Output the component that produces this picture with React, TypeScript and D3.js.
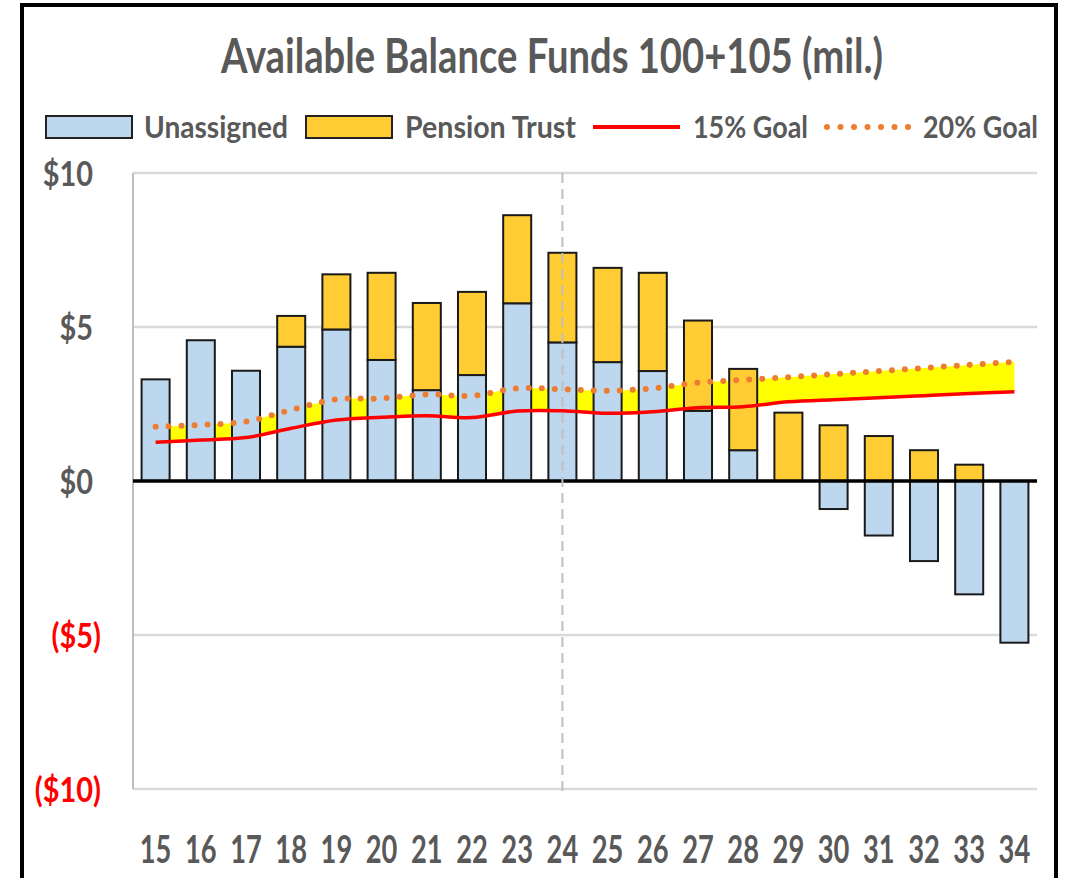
import * as d3 from 'd3';

// Fiscal years on the category axis
const categories = ['15', '16', '17', '18', '19', '20', '21', '22', '23', '24', '25', '26', '27', '28', '29', '30', '31', '32', '33', '34'];

// Stacked bar values (mil.)
const unassigned = [3.3, 4.57, 3.58, 4.36, 4.92, 3.93, 2.95, 3.44, 5.77, 4.5, 3.86, 3.57, 2.28, 1.0, 0, -0.91, -1.77, -2.6, -3.68, -5.25];
const pensionTrust = [0, 0, 0, 1.0, 1.79, 2.83, 2.83, 2.7, 2.86, 2.91, 3.06, 3.19, 2.93, 2.64, 2.22, 1.81, 1.46, 1.0, 0.53, 0];

// Goal lines (mil.)
const goal15 = [1.26, 1.33, 1.41, 1.71, 1.98, 2.07, 2.12, 2.06, 2.27, 2.28, 2.2, 2.25, 2.38, 2.41, 2.57, 2.64, 2.7, 2.77, 2.84, 2.9];
const goal20 = [1.76, 1.82, 1.93, 2.31, 2.65, 2.68, 2.81, 2.77, 3.01, 2.98, 2.93, 3.01, 3.19, 3.28, 3.37, 3.47, 3.57, 3.67, 3.77, 3.87];

const yTicks = [10, 5, 0, -5, -10];
const markerCategory = '24';

const WIDTH = 1068;
const HEIGHT = 878;
const PLOT = { left: 133, right: 1037, top: 173, bottom: 789 };

const FONT = 'Lato, "Open Sans", sans-serif';
const GRAY = '#595959';
const BLUE = '#BDD7EE';
const GOLD = '#FFCC33';
const RED = '#FF0000';
const ORANGE = '#ED7D31';

const fmt = (v: number) => (v < 0 ? `($${Math.abs(v)})` : `$${v}`);

type Row = { cat: string; unassigned: number; pension: number };

export default function App() {
  const xScale = d3
    .scaleBand<string>()
    .domain(categories)
    .range([PLOT.left, PLOT.right])
    .paddingInner(0.38)
    .paddingOuter(0.19);
  const yScale = d3.scaleLinear().domain([-10, 10]).range([PLOT.bottom, PLOT.top]);
  const cx = (i: number) => (xScale(categories[i]) ?? 0) + xScale.bandwidth() / 2;

  const rows: Row[] = categories.map((c, i) => ({ cat: c, unassigned: unassigned[i], pension: pensionTrust[i] }));
  const series = d3
    .stack<Row>()
    .keys(['unassigned', 'pension'])
    .offset(d3.stackOffsetDiverging)(rows);
  const fills: Record<string, string> = { unassigned: BLUE, pension: GOLD };

  const curve = d3.curveCatmullRom;
  const lineBuilder = d3
    .line<number>()
    .x((_, i) => cx(i))
    .y((d) => yScale(d))
    .curve(curve);
  const bandArea = d3
    .area<number>()
    .x((_, i) => cx(i))
    .y0((_, i) => yScale(goal15[i]))
    .y1((d) => yScale(d))
    .curve(curve);

  const mx = cx(categories.indexOf(markerCategory));

  return (
    <div style={{ position: 'absolute', left: 0, top: 0 }}>
      <svg width={WIDTH} height={HEIGHT} style={{ display: 'block', background: '#fff' }}>
        {/* frame */}
        <rect x={22} y={5} width={1034} height={900} fill="#fff" stroke="#000" strokeWidth={4} />

        {/* title */}
        <text x={221} y={73} fontFamily={FONT} fontSize={47} fontWeight={700} fill={GRAY} textLength={662} lengthAdjust="spacingAndGlyphs">
          Available Balance Funds 100+105 (mil.)
        </text>

        {/* legend */}
        <g fontFamily={FONT} fontSize={31} fontWeight={700} fill={GRAY}>
          <rect x={46} y={116} width={86} height={22} fill={BLUE} stroke="#222" strokeWidth={2} />
          <text x={144} y={138} textLength={144} lengthAdjust="spacingAndGlyphs">Unassigned</text>
          <rect x={306} y={116} width={86} height={22} fill={GOLD} stroke="#222" strokeWidth={2} />
          <text x={405} y={138} textLength={171} lengthAdjust="spacingAndGlyphs">Pension Trust</text>
          <line x1={593} x2={680} y1={127} y2={127} stroke={RED} strokeWidth={4} />
          <text x={693} y={138} textLength={115} lengthAdjust="spacingAndGlyphs">15% Goal</text>
          <line x1={827} x2={910} y1={127} y2={127} stroke={ORANGE} strokeWidth={6} strokeLinecap="round" strokeDasharray="0 13.5" />
          <text x={923} y={138} textLength={115} lengthAdjust="spacingAndGlyphs">20% Goal</text>
        </g>

        {/* gridlines */}
        {yTicks
          .filter((t) => t !== 0)
          .map((t) => (
            <line key={t} x1={PLOT.left} x2={PLOT.right} y1={yScale(t)} y2={yScale(t)} stroke="#D9D9D9" strokeWidth={2.5} />
          ))}
        <line x1={PLOT.left} x2={PLOT.left} y1={yScale(10)} y2={yScale(-10)} stroke="#BFBFBF" strokeWidth={2} />

        {/* goal band */}
        <path d={bandArea(goal20) ?? ''} fill="#FFFF00" />

        {/* bars */}
        {series.map((s) => (
          <g key={s.key} fill={fills[s.key]} stroke="#1a1a1a" strokeWidth={2}>
            {s
              .filter((d) => d[1] !== d[0])
              .map((d) => {
                const y0 = yScale(Math.max(d[0], d[1]));
                const y1 = yScale(Math.min(d[0], d[1]));
                return <rect key={d.data.cat} x={xScale(d.data.cat)} y={y0} width={xScale.bandwidth()} height={y1 - y0} />;
              })}
          </g>
        ))}

        {/* zero line */}
        <line x1={PLOT.left} x2={PLOT.right} y1={yScale(0)} y2={yScale(0)} stroke="#000" strokeWidth={3.5} />

        {/* marker year */}
        <line x1={mx} x2={mx} y1={yScale(10)} y2={yScale(-10) + 3} stroke="#BFBFBF" strokeWidth={2} strokeDasharray="10 6" />

        {/* goal lines */}
        <path d={lineBuilder(goal15) ?? ''} fill="none" stroke={RED} strokeWidth={3.5} />
        <path d={lineBuilder(goal20) ?? ''} fill="none" stroke={ORANGE} strokeWidth={6} strokeLinecap="round" strokeDasharray="0 13" />

        {/* y axis labels */}
        {yTicks.map((t) => (
          <g key={t} transform={`translate(${t < 0 ? 101 : 93},${yScale(t) + 13}) scale(0.85,1)`}>
            <text textAnchor="end" fontFamily={FONT} fontSize={34} fontWeight={700} fill={t < 0 ? RED : GRAY}>
              {fmt(t)}
            </text>
          </g>
        ))}

        {/* x axis labels */}
        {categories.map((c, i) => (
          <g key={c} transform={`translate(${cx(i)},863) scale(0.7,1)`}>
            <text textAnchor="middle" fontFamily={FONT} fontSize={39} fontWeight={700} fill={GRAY}>
              {c}
            </text>
          </g>
        ))}
      </svg>
    </div>
  );
}
